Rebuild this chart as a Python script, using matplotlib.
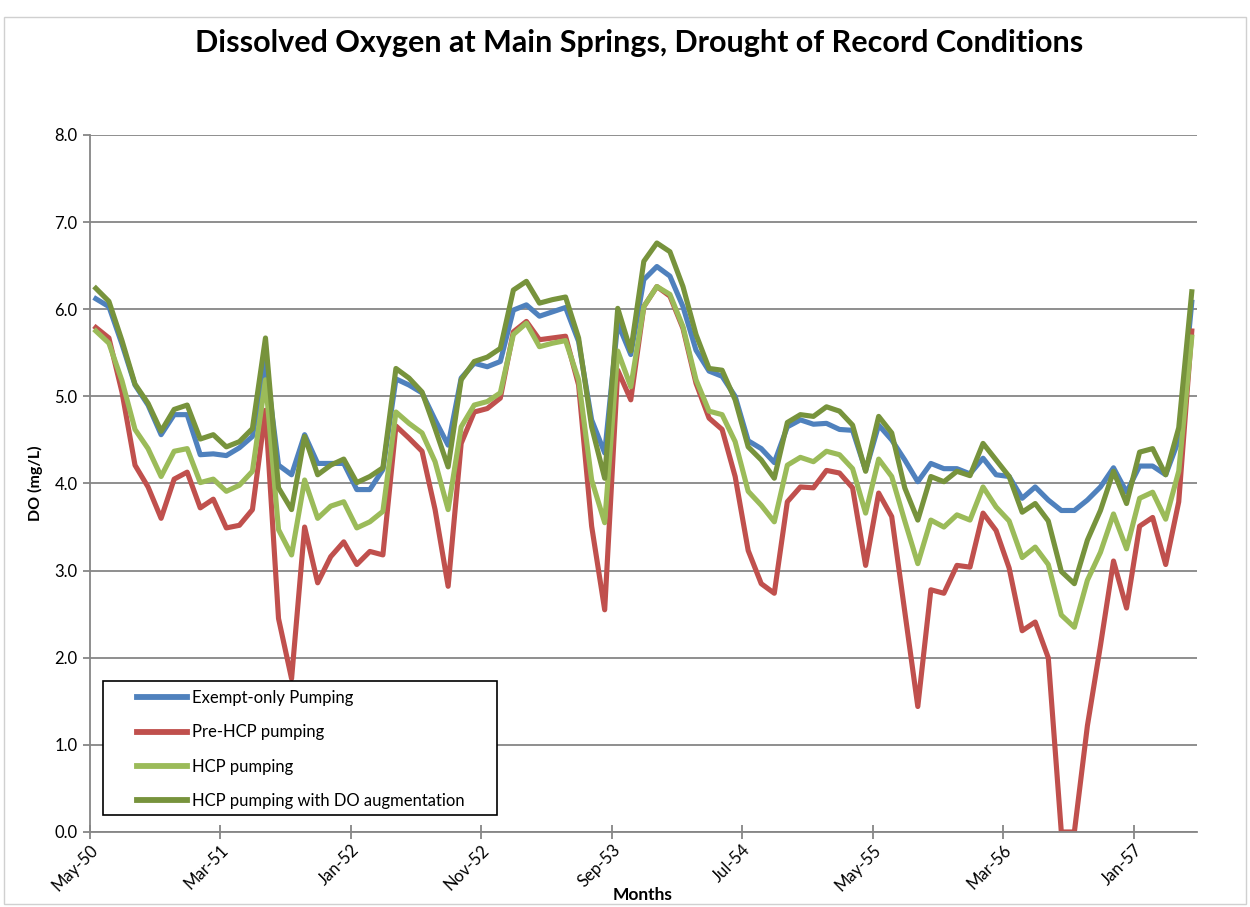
import matplotlib.pyplot as plt
import matplotlib.patches as mpatches
import numpy as np
import pandas as pd

# Monthly series, May-50 .. May-57
months = pd.date_range('1950-05-01', periods=85, freq='MS')
tick_labels = ['May-50', 'Mar-51', 'Jan-52', 'Nov-52', 'Sep-53',
               'Jul-54', 'May-55', 'Mar-56', 'Jan-57']

exempt_only = [6.12, 6.03, 5.60, 5.13, 4.90, 4.56, 4.79, 4.79, 4.33, 4.34,
               4.32, 4.41, 4.54, 5.40, 4.21, 4.10, 4.56, 4.23, 4.23, 4.23,
               3.93, 3.93, 4.16, 5.20, 5.13, 5.04, 4.73, 4.44, 5.21, 5.38,
               5.34, 5.40, 5.99, 6.05, 5.92, 5.97, 6.02, 5.63, 4.73, 4.35,
               5.84, 5.48, 6.34, 6.49, 6.38, 6.03, 5.53, 5.29, 5.23, 5.00,
               4.49, 4.40, 4.24, 4.65, 4.73, 4.68, 4.69, 4.62, 4.61, 4.15,
               4.67, 4.50, 4.27, 4.02, 4.23, 4.17, 4.17, 4.11, 4.29, 4.10,
               4.08, 3.83, 3.96, 3.81, 3.69, 3.69, 3.81, 3.96, 4.18, 3.90,
               4.20, 4.20, 4.10, 4.50, 6.08]

pre_hcp = [5.79, 5.67, 5.05, 4.21, 3.96, 3.60, 4.05, 4.13, 3.72, 3.82,
           3.49, 3.52, 3.70, 4.84, 2.45, 1.76, 3.50, 2.86, 3.16, 3.33,
           3.07, 3.22, 3.18, 4.66, 4.52, 4.37, 3.70, 2.82, 4.46, 4.82,
           4.86, 4.98, 5.74, 5.86, 5.65, 5.67, 5.69, 5.13, 3.51, 2.55,
           5.30, 4.96, 6.03, 6.26, 6.15, 5.78, 5.15, 4.75, 4.62, 4.08,
           3.23, 2.85, 2.74, 3.79, 3.96, 3.95, 4.15, 4.12, 3.95, 3.06,
           3.89, 3.62, 2.53, 1.44, 2.78, 2.74, 3.06, 3.04, 3.66, 3.46,
           3.03, 2.31, 2.41, 2.00, 0.00, 0.00, 1.22, 2.14, 3.11, 2.57,
           3.51, 3.61, 3.07, 3.79, 5.75]

hcp = [5.75, 5.61, 5.18, 4.62, 4.40, 4.08, 4.37, 4.40, 4.01, 4.05,
       3.91, 3.98, 4.14, 5.19, 3.47, 3.18, 4.04, 3.60, 3.74, 3.79,
       3.49, 3.56, 3.68, 4.82, 4.69, 4.58, 4.25, 3.70, 4.65, 4.90,
       4.94, 5.04, 5.71, 5.84, 5.57, 5.61, 5.64, 5.19, 4.04, 3.55,
       5.52, 5.11, 6.03, 6.26, 6.17, 5.80, 5.19, 4.83, 4.79, 4.48,
       3.91, 3.75, 3.56, 4.21, 4.30, 4.25, 4.37, 4.33, 4.17, 3.66,
       4.28, 4.08, 3.57, 3.08, 3.58, 3.50, 3.64, 3.58, 3.96, 3.73,
       3.57, 3.15, 3.27, 3.07, 2.49, 2.35, 2.89, 3.21, 3.65, 3.25,
       3.83, 3.90, 3.59, 4.14, 5.68]

hcp_do_aug = [6.24, 6.09, 5.64, 5.14, 4.92, 4.60, 4.85, 4.90, 4.51, 4.56,
              4.42, 4.48, 4.63, 5.67, 3.95, 3.70, 4.54, 4.10, 4.21, 4.28,
              4.01, 4.08, 4.18, 5.32, 5.21, 5.05, 4.63, 4.19, 5.19, 5.40,
              5.45, 5.55, 6.22, 6.32, 6.07, 6.11, 6.14, 5.67, 4.65, 4.06,
              6.01, 5.52, 6.55, 6.76, 6.66, 6.26, 5.71, 5.32, 5.30, 4.96,
              4.42, 4.27, 4.06, 4.70, 4.79, 4.77, 4.88, 4.83, 4.67, 4.14,
              4.77, 4.58, 3.95, 3.58, 4.08, 4.02, 4.14, 4.09, 4.46, 4.27,
              4.08, 3.67, 3.77, 3.57, 2.99, 2.85, 3.35, 3.69, 4.14, 3.77,
              4.36, 4.40, 4.10, 4.64, 6.20]

series = [
    ('Exempt-only Pumping', exempt_only, '#4F81BD'),
    ('Pre-HCP pumping', pre_hcp, '#C0504D'),
    ('HCP pumping', hcp, '#9BBB59'),
    ('HCP pumping with DO augmentation', hcp_do_aug, '#77933C'),
]

plt.rcParams['font.family'] = ['Lato', 'DejaVu Sans']
grey = '#868686'

fig = plt.figure(figsize=(12.5, 9.07), dpi=100)
ax = fig.add_axes([0.072, 0.0827, 0.8856, 0.7685])

# points sit mid-month on the date axis
x = np.arange(len(months)) + 0.45
for label, vals, color in series:
    ax.plot(x, vals, color=color, lw=3.7, label=label, solid_joinstyle='round')

ax.set_ylim(0, 8)
ax.set_xlim(0, 84.85)
ax.set_yticks(np.arange(0, 8.1, 1.0))
ax.set_yticklabels([f'{v:.1f}' for v in np.arange(0, 8.1, 1.0)], fontsize=12)
ax.set_xticks(np.arange(0, 81, 10))
ax.set_xticklabels(tick_labels, rotation=45, ha='right', va='top',
                   rotation_mode='anchor', fontsize=12)

ax.grid(axis='y', color=grey, lw=1.3)
ax.set_axisbelow(True)
for s in ['top', 'right']:
    ax.spines[s].set_visible(False)
for s in ['left', 'bottom']:
    ax.spines[s].set_color(grey)
    ax.spines[s].set_linewidth(1.3)
ax.tick_params(axis='y', color=grey, length=5, width=1.3, pad=4)
ax.tick_params(axis='x', color=grey, length=10, width=1.3, direction='inout', pad=2)

ax.set_ylabel('DO (mg/L)', fontsize=11.5, fontweight='bold', labelpad=8)
fig.text(0.514, 0.004, 'Months', ha='center', va='bottom',
         fontsize=12.5, fontweight='bold')
fig.text(0.511, 0.953, 'Dissolved Oxygen at Main Springs, Drought of Record Conditions',
         ha='center', va='center', fontsize=22, fontweight='bold')

# legend entries without frame, box drawn separately (Excel-style padding)
leg = ax.legend(loc='upper left', bbox_to_anchor=(0.0428, 0.2035), fontsize=12,
                frameon=False, handlelength=3.0, labelspacing=1.1, borderpad=0,
                handletextpad=0.25, borderaxespad=0)
for h in leg.get_lines():
    h.set_linewidth(4.2)
ax.add_patch(mpatches.Rectangle((0.0121, 0.0244), 0.356, 0.192, transform=ax.transAxes,
                                facecolor='white', edgecolor='black', lw=1.2, zorder=4))
leg.set_zorder(5)

fig.patches.append(mpatches.Rectangle((0.003, 0.003), 0.994, 0.978, transform=fig.transFigure,
                                      fill=False, edgecolor='#d0d0d0', lw=1))

fig.savefig('out.png', dpi=100)
